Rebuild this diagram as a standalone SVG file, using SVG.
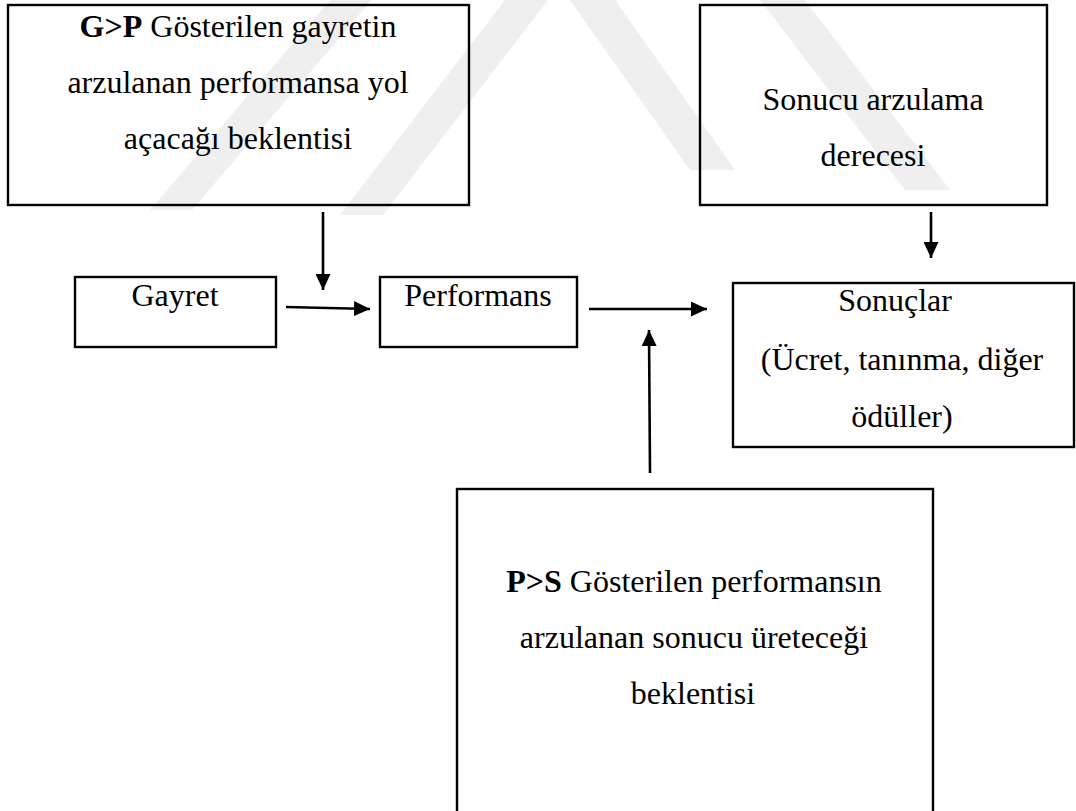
<svg xmlns="http://www.w3.org/2000/svg" width="1076" height="811" viewBox="0 0 1076 811">
<style>
.box{fill:none;stroke:#000;stroke-width:2.4}
.c{stroke:#000;stroke-width:2.6;fill:none}
.wm{fill:#efefef}
</style>
<defs>
<marker id="ah" viewBox="0 0 16 15" refX="16" refY="7.5" markerWidth="16" markerHeight="15" markerUnits="userSpaceOnUse" orient="auto">
<path d="M0,0 L16,7.5 L0,15 Z" fill="#000"/>
</marker>
</defs>
<rect width="1076" height="811" fill="#fff"/>
<g id="watermark">
<polygon class="wm" points="330,0 372,0 192,210 150,210"/>
<polygon class="wm" points="505,0 548,0 383,215 340,215"/>
<polygon class="wm" points="570,0 615,0 735,170 690,170"/>
<polygon class="wm" points="760,0 805,0 950,190 905,190"/>
</g>
<g id="node-gp">
<rect class="box" x="8" y="5" width="461" height="200"/>
<text x="238" y="37" font-family="Liberation Serif" font-size="32" text-anchor="middle"><tspan font-weight="bold">G&gt;P</tspan> Gösterilen gayretin</text>
<text x="238" y="93" font-family="Liberation Serif" font-size="32" text-anchor="middle">arzulanan performansa yol</text>
<text x="238" y="149" font-family="Liberation Serif" font-size="32" text-anchor="middle">açacağı beklentisi</text>
</g>
<g id="node-arzulama">
<rect class="box" x="700" y="5" width="347" height="200"/>
<text x="873" y="110" font-family="Liberation Serif" font-size="32" text-anchor="middle">Sonucu arzulama</text>
<text x="873" y="166" font-family="Liberation Serif" font-size="32" text-anchor="middle">derecesi</text>
</g>
<g id="node-gayret">
<rect class="box" x="75" y="277" width="201" height="70"/>
<text x="175" y="306" font-family="Liberation Serif" font-size="32" text-anchor="middle">Gayret</text>
</g>
<g id="node-performans">
<rect class="box" x="380" y="277" width="197" height="70"/>
<text x="478" y="306" font-family="Liberation Serif" font-size="32" text-anchor="middle">Performans</text>
</g>
<g id="node-sonuclar">
<rect class="box" x="733" y="283" width="341" height="164"/>
<text x="895" y="311" font-family="Liberation Serif" font-size="32" text-anchor="middle">Sonuçlar</text>
<text x="902" y="370" font-family="Liberation Serif" font-size="32" text-anchor="middle">(Ücret, tanınma, diğer</text>
<text x="902" y="427" font-family="Liberation Serif" font-size="32" text-anchor="middle">ödüller)</text>
</g>
<g id="node-ps">
<rect class="box" x="457" y="489" width="476" height="340"/>
<text x="694" y="592" font-family="Liberation Serif" font-size="32" text-anchor="middle"><tspan font-weight="bold">P&gt;S</tspan> Gösterilen performansın</text>
<text x="694" y="648" font-family="Liberation Serif" font-size="32" text-anchor="middle">arzulanan sonucu üreteceği</text>
<text x="693" y="704" font-family="Liberation Serif" font-size="32" text-anchor="middle">beklentisi</text>
</g>
<g id="connectors">
<line class="c" x1="323" y1="212" x2="323" y2="290" marker-end="url(#ah)"/>
<line class="c" x1="286" y1="307" x2="370" y2="309" marker-end="url(#ah)"/>
<line class="c" x1="589" y1="309" x2="707" y2="309" marker-end="url(#ah)"/>
<line class="c" x1="931" y1="212" x2="931" y2="258" marker-end="url(#ah)"/>
<line class="c" x1="650" y1="473" x2="649" y2="330" marker-end="url(#ah)"/>
</g>
</svg>
